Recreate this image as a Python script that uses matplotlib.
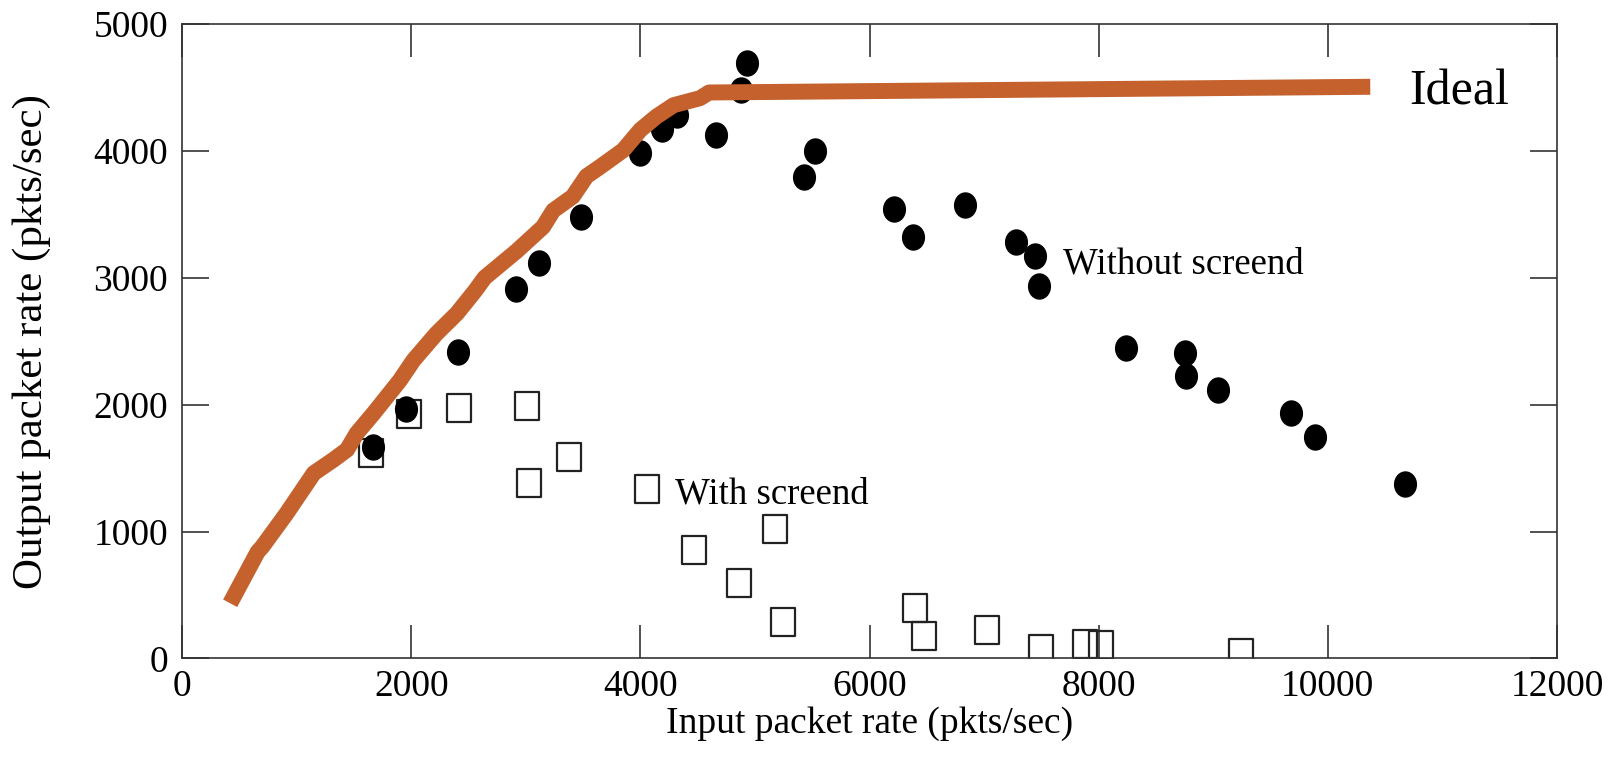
import matplotlib
matplotlib.use("Agg")
import matplotlib.pyplot as plt
import numpy as np
from matplotlib.path import Path

plt.rcParams['font.family'] = ['Liberation Serif', 'DejaVu Serif']

# ideal curve (orange)
ideal_x = [420, 660, 700, 910, 1030, 1150, 1320, 1440, 1525, 1670, 1900, 2020,
           2220, 2400, 2560, 2640, 2920, 3150, 3240, 3410, 3530, 3650, 3850,
           4000, 4140, 4290, 4520, 4600, 10370]
ideal_y = [435, 840, 880, 1140, 1300, 1460, 1565, 1645, 1775, 1930, 2190, 2350,
           2560, 2720, 2900, 3000, 3210, 3400, 3530, 3640, 3800, 3875, 4005,
           4165, 4270, 4360, 4415, 4460, 4505]

# without screend (filled circles)
wo_x = [1664, 1955, 2411, 2912, 3116, 3479, 3997, 4186, 4317, 4660, 4876, 4934,
        5428, 5524, 6214, 6382, 6836, 7276, 7444, 7479, 8238, 8753, 8762, 9044,
        9676, 9888, 10673]
wo_y = [1669, 1964, 2418, 2909, 3119, 3481, 3981, 4170, 4283, 4125, 4480, 4695,
        3792, 4001, 3542, 3319, 3574, 3284, 3172, 2938, 2444, 2410, 2226, 2116,
        1937, 1748, 1375]

# with screend (open squares)
w_x = [1647, 1984, 2420, 3008, 3030, 3380, 4055, 4471, 4864, 5175, 5248, 6397,
       6475, 7022, 7494, 7880, 8022, 9243]
w_y = [1617, 1924, 1971, 1990, 1380, 1590, 1335, 855, 597, 1018, 290, 400,
       177, 225, 72, 112, 106, 40]

xticks = [0, 2000, 4000, 6000, 8000, 10000, 12000]
yticks = [0, 1000, 2000, 3000, 4000, 5000]

# slightly tall markers (the source image is stretched vertically)
c = Path.unit_circle()
ellipse = Path(c.vertices * [1.0, 1.15], c.codes)
sq = Path([(-0.85, -1), (0.85, -1), (0.85, 1), (-0.85, 1), (-0.85, -1)],
          [Path.MOVETO, Path.LINETO, Path.LINETO, Path.LINETO, Path.CLOSEPOLY])

fig = plt.figure(figsize=(16.11, 7.63), dpi=100)
ax = fig.add_axes([0.113, 0.137, 0.8535, 0.8316])

ax.plot(w_x, w_y, linestyle='none', marker=sq, markersize=19.5,
        markerfacecolor='none', markeredgecolor='#222222', markeredgewidth=1.6, zorder=2)
ax.plot(wo_x, wo_y, linestyle='none', marker=ellipse, markersize=18,
        color='black', zorder=3)
ax.plot(ideal_x, ideal_y, color='#C5612C', linewidth=11.5, solid_capstyle='butt',
        solid_joinstyle='round', zorder=4)

ax.text(10708, 4362, 'Ideal', fontsize=36, va='baseline', ha='left')
ax.text(7690, 3036, 'Without screend', fontsize=26.5, va='baseline', ha='left')
ax.text(4300, 1225, 'With screend', fontsize=26.5, va='baseline', ha='left')

ax.set_xlim(0, 12000)
ax.set_ylim(0, 5000)
ax.set_xticks(xticks)
ax.set_yticks(yticks)

for s in ax.spines.values():
    s.set_color('#333333')
    s.set_linewidth(1.2)

ax.tick_params(direction='in', top=True, right=True, labelsize=27,
               colors='#333333', labelcolor='black', width=1.2)
ax.tick_params(axis='x', length=24, pad=8)
ax.tick_params(axis='y', length=19.5, pad=10)

ax.set_xlabel('Input packet rate (pkts/sec)', fontsize=27, labelpad=2)
ax.set_ylabel('Output packet rate (pkts/sec)', fontsize=31)
ax.yaxis.set_label_coords(-0.095, 0.5)

fig.savefig('out.png', dpi=100)
